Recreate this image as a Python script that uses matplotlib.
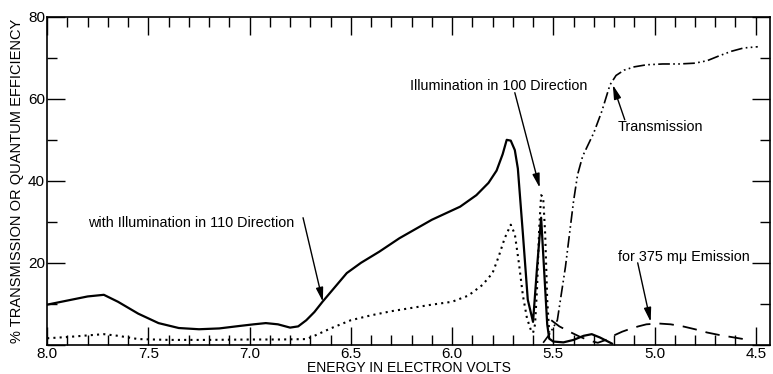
import numpy as np
import matplotlib
matplotlib.use("Agg")
import matplotlib.pyplot as plt
from matplotlib.ticker import MultipleLocator, FuncFormatter

plt.rcParams['font.family'] = ['Liberation Sans', 'DejaVu Sans']

# quantum efficiency, illumination in 110 direction (solid)
x110 = [8.0, 7.9, 7.8, 7.72, 7.65, 7.55, 7.45, 7.35, 7.25, 7.15, 7.05, 6.98, 6.92,
        6.86, 6.8, 6.76, 6.72, 6.68, 6.64, 6.58, 6.52, 6.45, 6.36, 6.26, 6.1, 5.96,
        5.88, 5.82, 5.78, 5.75, 5.73, 5.71, 5.69, 5.675, 5.65, 5.626, 5.60, 5.58, 5.56,
        5.545, 5.53, 5.52, 5.50, 5.45, 5.40, 5.35, 5.31, 5.27, 5.21]
y110 = [9.8, 10.8, 11.8, 12.2, 10.5, 7.6, 5.3, 4.1, 3.8, 4.0, 4.6, 5.0, 5.3,
        5.0, 4.2, 4.5, 6.0, 8.0, 10.5, 14.0, 17.5, 20.0, 22.7, 26.0, 30.5, 33.7,
        36.5, 39.5, 42.5, 46.5, 50.0, 49.8, 47.5, 43.0, 27.0, 11.0, 5.6, 19.0, 31.0,
        18.0, 5.0, 1.5, 0.8, 0.6, 1.2, 2.2, 2.6, 1.8, 0.3]

# quantum efficiency, illumination in 100 direction (dotted)
x100 = [8.0, 7.9, 7.8, 7.72, 7.65, 7.55, 7.4, 7.2, 7.0, 6.85, 6.72, 6.68, 6.6,
        6.5, 6.4, 6.3, 6.2, 6.1, 6.0, 5.92, 5.85, 5.8, 5.77, 5.74, 5.71, 5.69,
        5.67, 5.65, 5.63, 5.61, 5.60, 5.59, 5.58, 5.57, 5.56, 5.55, 5.54, 5.53, 5.52]
y100 = [1.6, 1.9, 2.3, 2.6, 2.2, 1.4, 1.2, 1.2, 1.3, 1.3, 1.4, 2.2, 4.0,
        6.0, 7.2, 8.2, 9.0, 9.8, 10.5, 12.0, 14.6, 17.5, 21.5, 26.0, 29.3, 27.0,
        20.0, 12.0, 6.5, 3.5, 2.9, 5.0, 14.0, 28.0, 36.5, 36.0, 27.0, 11.0, 3.0]

# transmission (dash-dot-dot)
x_tr = [5.55, 5.52, 5.48, 5.44, 5.42, 5.40, 5.38, 5.355, 5.30, 5.26, 5.22, 5.19,
        5.15, 5.10, 5.04, 4.96, 4.88, 4.80, 4.74, 4.68, 4.62, 4.56, 4.49]
y_tr = [0.5, 2.5, 6.0, 19.0, 27.0, 35.0, 41.5, 46.0, 51.7, 57.0, 63.4, 65.7,
        67.0, 67.8, 68.3, 68.5, 68.5, 68.7, 69.3, 70.5, 71.6, 72.4, 72.7]

# 375 m-mu emission (dashed)
x_em = [5.51, 5.47, 5.42, 5.37, 5.32, 5.28, 5.24, 5.20, 5.16, 5.12, 5.08, 5.04,
        4.98, 4.92, 4.86, 4.80, 4.74, 4.68, 4.62, 4.56, 4.52]
y_em = [6.0, 4.5, 3.2, 2.0, 1.0, 0.5, 1.2, 2.3, 3.2, 3.9, 4.5, 5.0,
        5.2, 5.0, 4.5, 3.8, 3.0, 2.4, 1.9, 1.4, 1.2]

fig = plt.figure(figsize=(7.73, 3.74), dpi=100)
ax = fig.add_axes([0.061, 0.078, 0.935, 0.877])

ax.plot(x110, y110, color='black', lw=1.6)
ax.plot(x100, y100, color='black', lw=1.5, linestyle=(0, (1, 2)))
ax.plot(x_tr, y_tr, color='black', lw=1.2, linestyle=(0, (7, 2, 1, 2, 1, 2)))
ax.plot(x_em, y_em, color='black', lw=1.3, linestyle=(0, (8, 5)))

ax.set_xlim(8.0, 4.43)
ax.set_ylim(0, 80)
ax.xaxis.set_major_locator(MultipleLocator(0.5))
ax.xaxis.set_minor_locator(MultipleLocator(0.1))
ax.yaxis.set_major_locator(MultipleLocator(20))
ax.yaxis.set_minor_locator(MultipleLocator(10))
ax.xaxis.set_major_formatter(FuncFormatter(lambda v, p: f"{v:.1f}"))
ax.yaxis.set_major_formatter(FuncFormatter(lambda v, p: "" if v == 0 else f"{v:.0f}"))
ax.tick_params(which='both', direction='in', top=True, right=True, labelsize=11, pad=1.5)
ax.tick_params(which='major', length=13, width=1)
ax.tick_params(which='minor', length=7, width=1)
for s in ax.spines.values():
    s.set_linewidth(1.2)

ax.set_xlabel("ENERGY IN ELECTRON VOLTS", fontsize=10, labelpad=0)
ax.set_ylabel("% TRANSMISSION OR QUANTUM EFFICIENCY", fontsize=10.5, labelpad=3)

ap = dict(arrowstyle='-|>,head_length=0.7,head_width=0.18', color='black', lw=1,
          mutation_scale=12, shrinkA=0, shrinkB=0)
fs = 10.4
ax.text(7.80, 29.8, "with Illumination in 110 Direction", fontsize=fs, va='center', ha='left')
ax.annotate("", xy=(6.638, 10.5), xytext=(6.736, 31.0), arrowprops=ap)
ax.text(6.208, 63.2, "Illumination in 100 Direction", fontsize=fs, va='center', ha='left')
ax.annotate("", xy=(5.567, 38.3), xytext=(5.69, 61.5), arrowprops=ap)
ax.text(5.182, 53.2, "Transmission", fontsize=fs, va='center', ha='left')
ax.annotate("", xy=(5.206, 63.4), xytext=(5.147, 54.9), arrowprops=ap)
ax.text(5.18, 21.5, "for 375 m\u03bc Emission", fontsize=fs, va='center', ha='left')
ax.annotate("", xy=(5.019, 5.6), xytext=(5.083, 20.0), arrowprops=ap)

fig.savefig("out.png", dpi=100)
